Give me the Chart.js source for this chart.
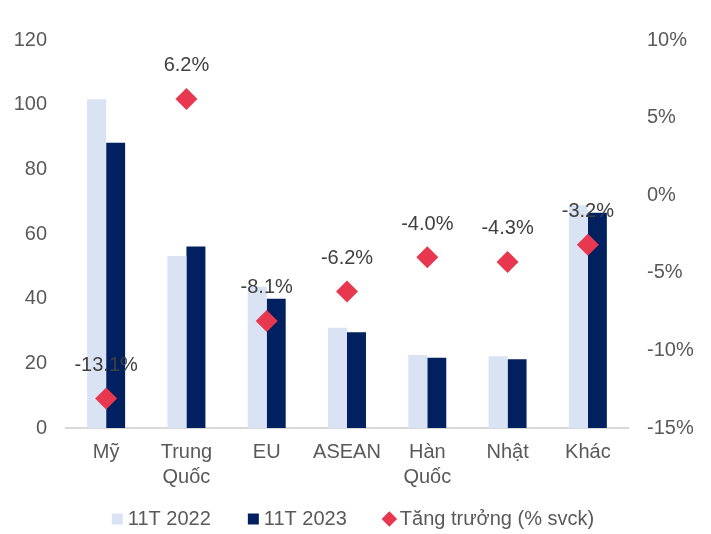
<!DOCTYPE html>
<html>
<head>
<meta charset="utf-8">
<script src="https://cdn.jsdelivr.net/npm/chart.js@4/dist/chart.umd.min.js"></script>
<style>
  html, body { margin: 0; padding: 0; background: #ffffff; }
  #wrap { width: 711px; height: 534px; position: relative; }
</style>
</head>
<body>
<div id="wrap"><canvas id="c" width="711" height="534"></canvas></div>
<script>
const categories = ['Mỹ', ['Trung', 'Quốc'], 'EU', 'ASEAN', ['Hàn', 'Quốc'], 'Nhật', 'Khác'];
const values2022 = [101.7, 53.2, 43.7, 31.0, 22.6, 22.2, 68.9];
const values2023 = [88.2, 56.1, 40.0, 29.6, 21.7, 21.3, 66.6];
const growth = [-13.1, 6.2, -8.1, -6.2, -4.0, -4.3, -3.2];
const seriesNames = ['11T 2022', '11T 2023', 'Tăng trưởng (% svck)'];

const FONT = "'Liberation Sans', Arial, sans-serif";
Chart.defaults.font.family = FONT;
Chart.defaults.font.size = 20;
Chart.defaults.color = '#595959';

const labelPlugin = {
  id: 'growthLabels',
  afterDatasetsDraw(chart) {
    const meta = chart.getDatasetMeta(2);
    const ctx = chart.ctx;
    ctx.save();
    ctx.font = '20px ' + FONT;
    ctx.fillStyle = '#404040';
    ctx.textAlign = 'center';
    ctx.textBaseline = 'middle';
    meta.data.forEach((pt, i) => {
      ctx.fillText(growth[i].toFixed(1) + '%', pt.x, pt.y - 33);
    });
    ctx.restore();
  }
};

// Move the legend's top edge up so its wide horizontal padding still fits on the canvas
const legendShift = {
  id: 'legendShift',
  afterLayout(chart) {
    if (chart.legend) {
      chart.legend.top -= 26;
      chart.legend.height += 26;
    }
  }
};

new Chart(document.getElementById('c'), {
  data: {
    labels: categories,
    datasets: [
      {
        type: 'bar', label: seriesNames[0], data: values2022,
        backgroundColor: '#DAE3F3', yAxisID: 'y', order: 2,
        categoryPercentage: 0.473, barPercentage: 1.0
      },
      {
        type: 'bar', label: seriesNames[1], data: values2023,
        backgroundColor: '#002060', yAxisID: 'y', order: 2,
        categoryPercentage: 0.473, barPercentage: 1.0
      },
      {
        type: 'line', label: seriesNames[2], data: growth,
        yAxisID: 'y1', showLine: false, order: 0,
        pointStyle: 'rectRot', pointRadius: 11, pointHoverRadius: 11,
        backgroundColor: '#E8384F', borderColor: '#E8384F', borderWidth: 0
      }
    ]
  },
  options: {
    responsive: false,
    animation: false,
    events: [],
    layout: { padding: { top: 40, left: 0, right: 0, bottom: 0 } },
    plugins: {
      tooltip: { enabled: false },
      legend: {
        position: 'bottom',
        maxHeight: 41,
        labels: {
          usePointStyle: true,
          boxWidth: 1, boxHeight: 11,
          padding: 42,
          color: '#595959',
          font: { size: 20, family: FONT },
          generateLabels(chart) {
            const styles = ['rect', 'rect', 'rectRot'];
            return chart.data.datasets.map((ds, i) => ({
              text: ds.label,
              fillStyle: ds.backgroundColor,
              strokeStyle: ds.backgroundColor,
              lineWidth: 0,
              pointStyle: styles[i],
              fontColor: '#595959',
              datasetIndex: i,
              hidden: false
            }));
          }
        }
      }
    },
    scales: {
      x: {
        grid: { display: false, drawTicks: false },
        border: { display: true, color: '#D9D9D9', width: 2 },
        ticks: {
          color: '#595959', font: { size: 20, lineHeight: 1.25 },
          maxRotation: 0, autoSkip: false, padding: 12
        },
        afterFit(scale) { scale.height = 65; }
      },
      y: {
        position: 'left', min: 0, max: 120,
        grid: { display: false, drawTicks: false },
        border: { display: false },
        ticks: { stepSize: 20, color: '#595959', padding: 19, font: { size: 20 } },
        afterFit(scale) { scale.width = 66; }
      },
      y1: {
        position: 'right', min: -15, max: 10,
        grid: { display: false, drawTicks: false },
        border: { display: false },
        ticks: {
          stepSize: 5, color: '#595959', padding: 19, font: { size: 20 },
          callback: (v) => v + '%'
        },
        afterFit(scale) { scale.width = 83; }
      }
    }
  },
  plugins: [labelPlugin, legendShift]
});
</script>
</body>
</html>
